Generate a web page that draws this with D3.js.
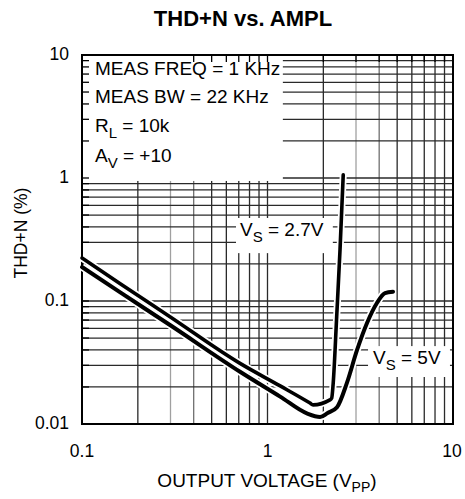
<!DOCTYPE html>
<html>
<head>
<meta charset="utf-8">
<script src="https://cdn.jsdelivr.net/npm/d3@7"></script>
<style>
  body { margin: 0; background: #fff; }
  text { font-family: "Liberation Sans", Arial, sans-serif; fill: #000; }
</style>
</head>
<body>
<svg id="chart" width="465" height="499"></svg>
<script>
'use strict';

// values
const vs27Volts = [0.1, 0.16, 0.298, 0.711, 1.17, 1.695, 1.76, 2.17, 2.22, 2.26, 2.36, 2.46, 2.56];
const vs27Thd   = [0.224, 0.139, 0.0745, 0.0311, 0.0204, 0.0148, 0.0143, 0.0157, 0.0163, 0.0214, 0.0745, 0.26, 1.06];

const vs5Volts = [0.1, 0.16, 0.298, 0.711, 1.17, 1.63, 1.92, 2.11, 2.37, 2.68, 3.04, 3.44, 3.89, 4.30, 4.75];
const vs5Thd   = [0.189, 0.118, 0.0638, 0.0266, 0.0167, 0.0122, 0.0114, 0.0123, 0.0137, 0.0216, 0.040, 0.0663, 0.0964, 0.116, 0.119];

const xTicks = [0.1, 1, 10];
const xTickLabels = ['0.1', '1', '10'];
const yTicks = [0.01, 0.1, 1, 10];
const yTickLabels = ['0.01', '0.1', '1', '10'];
const grayX = [0.3, 3];
const midGrayX = [0.4, 4];

const svg = d3.select('#chart');
const plot = { left: 82, right: 453, top: 55, bottom: 424 };

const x = d3.scaleLog().domain([0.1, 10]).range([plot.left, plot.right]);
const y = d3.scaleLog().domain([0.01, 10]).range([plot.bottom, plot.top]);

// every 1..9 multiple inside a log domain
const minors = (lo, hi) => {
    let out = [];
    for (let d = lo; d < hi * 0.999; d *= 10) {
        for (let m = 1; m <= 9; m++) out.push(d * m);
    }
    out.push(hi);
    return out;
};
const xGrid = minors(0.1, 10);
const yGrid = minors(0.01, 10);

const inList = (list, v) => list.some(g => Math.abs(g - v) < 1e-6);
const xColor = d => inList(grayX, d) ? '#a0a0a0' : inList(midGrayX, d) ? '#707070' : '#2a2a2a';

const grid = svg.append('g');
grid.selectAll('.vx')
    .data(xGrid)
    .enter().append('line')
    .attr('x1', d => x(d)).attr('x2', d => x(d))
    .attr('y1', plot.top).attr('y2', plot.bottom)
    .attr('stroke', xColor)
    .attr('stroke-width', 1.3);

grid.selectAll('.hy')
    .data(yGrid)
    .enter().append('line')
    .attr('y1', d => y(d)).attr('y2', d => y(d))
    .attr('x1', plot.left).attr('x2', plot.right)
    .attr('stroke', '#2a2a2a')
    .attr('stroke-width', 1.3);

// white boxes behind the annotations (in data units)
const boxes = [
    { x0: 0.1, x1: 1.21, y0: 10, y1: 0.946 },
    { x0: 0.668, x1: 2.25, y0: 0.482, y1: 0.245 },
    { x0: 3.44, x1: 9.63, y0: 0.0438, y1: 0.0241 }
];
svg.append('g').selectAll('rect')
    .data(boxes)
    .enter().append('rect')
    .attr('x', d => x(d.x0) + 1)
    .attr('y', d => y(d.y0) + 1)
    .attr('width', d => x(d.x1) - x(d.x0) - 1)
    .attr('height', d => y(d.y1) - y(d.y0) - 1)
    .attr('fill', '#fff');

// short ticks on the left and top edges
const ticks = svg.append('g').attr('stroke', '#000').attr('stroke-width', 1.3);
ticks.selectAll('.ty')
    .data(yGrid)
    .enter().append('line')
    .attr('x1', plot.left).attr('x2', plot.left + 7)
    .attr('y1', d => y(d)).attr('y2', d => y(d));
ticks.selectAll('.tx')
    .data(xGrid.filter(d => d >= 0.4))
    .enter().append('line')
    .attr('y1', plot.top).attr('y2', plot.top + 7)
    .attr('x1', d => x(d)).attr('x2', d => x(d));

svg.append('rect')
    .attr('x', plot.left).attr('y', plot.top)
    .attr('width', plot.right - plot.left)
    .attr('height', plot.bottom - plot.top)
    .attr('fill', 'none')
    .attr('stroke', '#000')
    .attr('stroke-width', 2);

// curves
const line = d3.line()
    .x(d => x(d[0]))
    .y(d => y(d[1]))
    .curve(d3.curveMonotoneX);

const series = [
    { v: vs5Volts, t: vs5Thd, w: 4 },
    { v: vs27Volts, t: vs27Thd, w: 3.6 }
];
series.forEach(s => {
    const pts = s.v.map((v, i) => [v, s.t[i]]);
    svg.append('path').datum(pts)
        .attr('d', line)
        .attr('fill', 'none')
        .attr('stroke', '#fff')
        .attr('stroke-width', s.w + 3.5)
        .attr('stroke-linejoin', 'round');
    svg.append('path').datum(pts)
        .attr('d', line)
        .attr('fill', 'none')
        .attr('stroke', '#000')
        .attr('stroke-width', s.w)
        .attr('stroke-linejoin', 'round')
        .attr('stroke-linecap', 'round');
});

// tick labels
svg.selectAll('.xl')
    .data(xTicks)
    .enter().append('text')
    .attr('x', (d, i) => x(d) - (i === 2 ? 1 : 0))
    .attr('y', 457)
    .attr('text-anchor', 'middle')
    .attr('font-size', 17.5)
    .text((d, i) => xTickLabels[i]);

svg.selectAll('.yl')
    .data(yTicks)
    .enter().append('text')
    .attr('x', 69)
    .attr('y', d => y(d) + 5)
    .attr('text-anchor', 'end')
    .attr('font-size', 17.5)
    .text((d, i) => yTickLabels[i]);

// title and axis titles
svg.append('text')
    .attr('x', 243).attr('y', 26)
    .attr('text-anchor', 'middle')
    .attr('font-size', 22)
    .attr('font-weight', 'bold')
    .text('THD+N vs. AMPL');

const xt = svg.append('text')
    .attr('x', 267).attr('y', 487)
    .attr('text-anchor', 'middle')
    .attr('font-size', 19);
xt.append('tspan').text('OUTPUT VOLTAGE (V');
xt.append('tspan').attr('dy', 5).attr('font-size', 14).text('PP');
xt.append('tspan').attr('dy', -5).text(')');

svg.append('text')
    .attr('transform', 'translate(27,233) rotate(-90)')
    .attr('text-anchor', 'middle')
    .attr('font-size', 17.5)
    .text('THD+N (%)');

// annotations
const note = (tx, ty, main, sub, rest) => {
    const t = svg.append('text')
        .attr('x', tx).attr('y', ty)
        .attr('font-size', 19);
    t.append('tspan').text(main);
    if (sub) {
        t.append('tspan').attr('dy', 6).attr('font-size', 15).text(sub);
        t.append('tspan').attr('dy', -6).text(rest);
    }
};
note(95, 75, 'MEAS FREQ = 1 KHz');
note(95, 103, 'MEAS BW = 22 KHz');
note(95, 132, 'R', 'L', ' = 10k');
note(95, 162, 'A', 'V', ' = +10');
note(240, 236, 'V', 'S', ' = 2.7V');
note(373, 364, 'V', 'S', ' = 5V');
</script>
</body>
</html>
